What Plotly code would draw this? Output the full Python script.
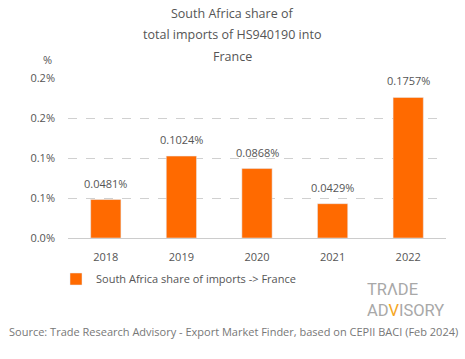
import plotly.graph_objects as go

years = ["2018", "2019", "2020", "2021", "2022"]
shares = [0.0481, 0.1024, 0.0868, 0.0429, 0.1757]
labels = ["0.0481%", "0.1024%", "0.0868%", "0.0429%", "0.1757%"]
tick_vals = [0, 0.05, 0.1, 0.15, 0.2]
tick_text = ["0.0%", "0.1%", "0.1%", "0.2%", "0.2%"]
title_lines = ["South Africa share of", "total imports of HS940190 into", "France"]
series_name = "South Africa share of imports -> France"
source = "Source: Trade Research Advisory - Export Market Finder, based on CEPII BACI (Feb 2024)"

ORANGE = "#ff6a00"
TXT = "#555555"
FONT = "Open Sans"

W, H = 465, 359
ml, mr, mt, mb = 68, 19, 78, 121
ph = H - mt - mb
pw = W - ml - mr

def py(y):
    return (H - mb - y) / ph

def px(x):
    return (x - ml) / pw

fig = go.Figure()
fig.add_trace(go.Bar(
    x=years, y=shares, name=series_name, marker_color=ORANGE, showlegend=True,
))

ann = []
for i, t in enumerate(title_lines):
    ann.append(dict(text=t, x=px(232), y=py([13, 35, 56][i]), xref="paper", yref="paper",
                    showarrow=False, xanchor="center", yanchor="middle",
                    font=dict(family=FONT, size=12.5, color=TXT)))
for i, (y, t) in enumerate(zip(shares, labels)):
    ann.append(dict(text=t, x=i, y=y, xref="x", yref="y", showarrow=False,
                    yanchor="bottom", yshift=7, font=dict(family=FONT, size=11, color=TXT)))
ann.append(dict(text="%", x=px(47), y=py(60), xref="paper", yref="paper", showarrow=False,
                xanchor="center", yanchor="middle", font=dict(family=FONT, size=11, color=TXT)))
ann.append(dict(text=source, x=px(233), y=py(331), xref="paper", yref="paper", showarrow=False,
                xanchor="center", yanchor="middle", font=dict(family=FONT, size=11, color="#777777")))
ann.append(dict(text="TRΛDE<br>AD<span style='color:#f5a623'>V</span>ISORY", x=px(365), y=py(322),
                xref="paper", yref="paper", showarrow=False, align="left",
                xanchor="left", yanchor="bottom",
                font=dict(family="Roboto", size=16.5, color="#a8a8a8")))

fig.update_layout(
    width=W, height=H,
    margin=dict(l=ml, r=mr, t=mt, b=mb),
    paper_bgcolor="white", plot_bgcolor="white",
    font=dict(family=FONT, size=11, color=TXT),
    bargap=0.6,
    annotations=ann,
    showlegend=True,
    legend=dict(orientation="h", x=px(56), y=py(279), xanchor="left", yanchor="middle",
                font=dict(family=FONT, size=11, color=TXT)),
    xaxis=dict(type="category", showgrid=False, showline=True, linecolor="#cccccc", linewidth=1,
               ticklabelstandoff=9, tickfont=dict(size=11, color=TXT)),
    yaxis=dict(range=[0, 0.2], tickvals=tick_vals, ticktext=tick_text,
               showgrid=True, gridcolor="#d0d0d0", griddash="dash", gridwidth=1,
               zeroline=False, showline=False, ticklabelstandoff=12,
               tickfont=dict(size=11, color=TXT)),
)

fig.write_html("out.html", config={"displayModeBar": False},
               post_script="document.body.style.margin='0';document.body.style.padding='0';")
